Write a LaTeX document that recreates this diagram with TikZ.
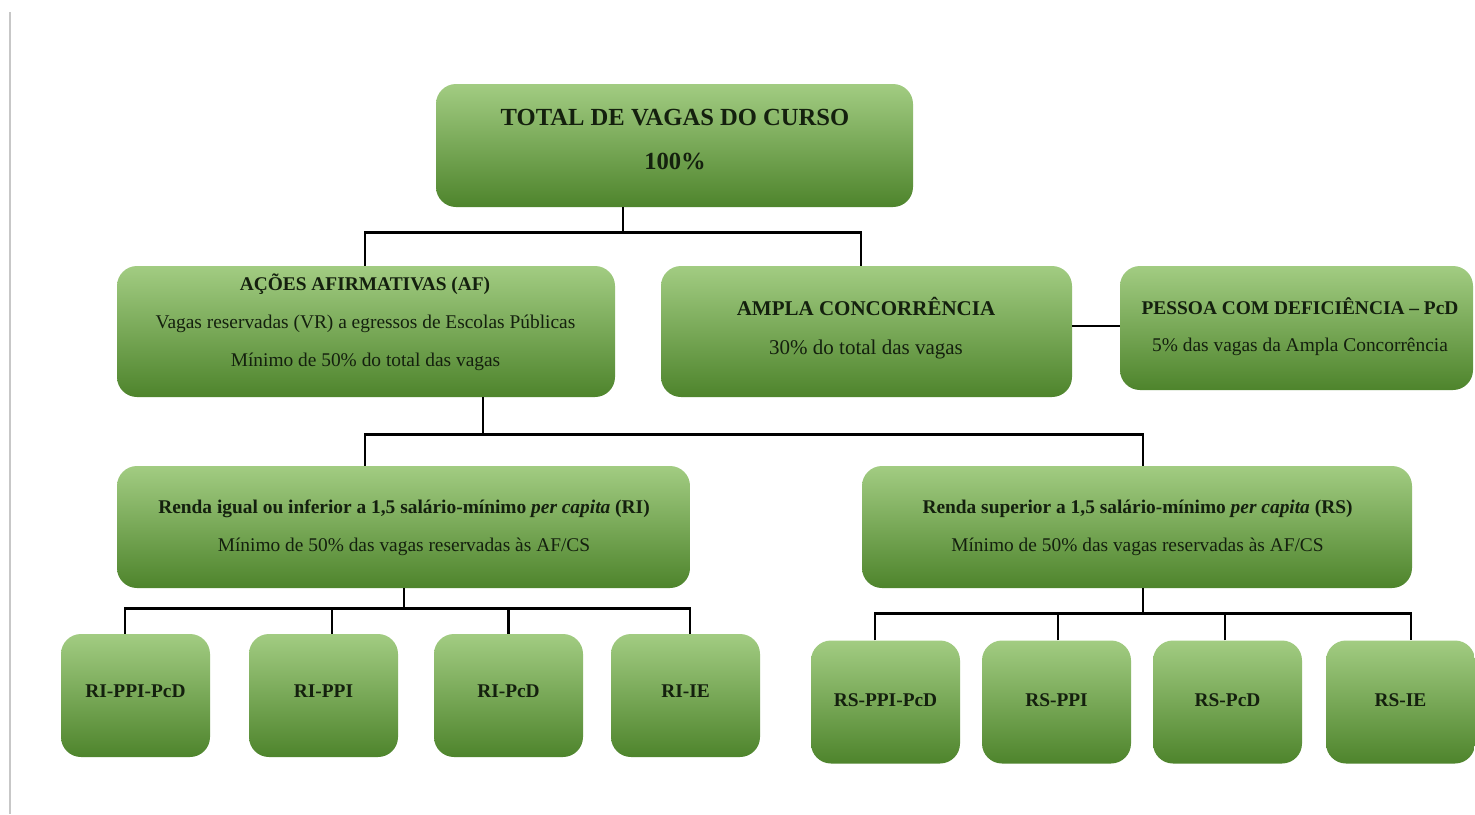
\documentclass[tikz,border=0pt]{standalone}
\usepackage{fontspec}
\setmainfont{Liberation Serif}
\definecolor{gtop}{RGB}{162,204,130}
\definecolor{gmid}{RGB}{120,176,74}
\definecolor{gbot}{RGB}{78,132,44}
\definecolor{txt}{RGB}{20,32,14}
\tikzset{
  box/.style={rectangle, rounded corners=20pt, top color=gtop, middle color=gmid, bottom color=gbot, draw=none, inner sep=0pt},
  conn/.style={draw=black, line width=2.7pt},
  tb/.style={anchor=base, text=txt, inner sep=0pt, font=\fontsize{19.4}{23}\selectfont\bfseries},
  tr/.style={anchor=base, text=txt, inner sep=0pt, font=\fontsize{19.4}{23}\selectfont},
  tbig/.style={anchor=base, text=txt, inner sep=0pt, font=\fontsize{24.6}{29}\selectfont\bfseries},
  tbac/.style={anchor=base, text=txt, inner sep=0pt, font=\fontsize{21}{25}\selectfont\bfseries},
  trac/.style={anchor=base, text=txt, inner sep=0pt, font=\fontsize{21}{25}\selectfont},
}
\begin{document}
\begin{tikzpicture}[x=1pt,y=-1pt]
\useasboundingbox (0,0) rectangle (1475,814);
\fill[white] (0,0) rectangle (1475,814);
\draw[black!22, line width=1.5pt] (10,12) -- (10,814);

% boxes
\node[box, minimum width=477pt, minimum height=123pt] (top) at (674.5,145.5) {};
\node[box, minimum width=498pt, minimum height=131pt] (af) at (366,331.5) {};
\node[box, minimum width=411pt, minimum height=131pt] (ac) at (866.5,331.5) {};
\node[box, minimum width=353pt, minimum height=124pt] (pcd) at (1296.5,328) {};
\node[box, minimum width=573pt, minimum height=122pt] (ri) at (403.5,527) {};
\node[box, minimum width=550pt, minimum height=122pt] (rs) at (1137,527) {};
\node[box, minimum width=149pt, minimum height=123pt] (c1) at (135.5,695.5) {};
\node[box, minimum width=149pt, minimum height=123pt] (c2) at (323.5,695.5) {};
\node[box, minimum width=149pt, minimum height=123pt] (c3) at (508.5,695.5) {};
\node[box, minimum width=149pt, minimum height=123pt] (c4) at (685.5,695.5) {};
\node[box, minimum width=149pt, minimum height=123pt] (d1) at (885.5,702) {};
\node[box, minimum width=149pt, minimum height=123pt] (d2) at (1056.5,702) {};
\node[box, minimum width=149pt, minimum height=123pt] (d3) at (1227.5,702) {};
\node[box, minimum width=149pt, minimum height=123pt] (d4) at (1400.5,702) {};

% texts
\node[tbig] (top1) at (675,125) {TOTAL DE VAGAS DO CURSO};
\node[tbig] (top2) at (675,169) {100\%};
\node[tb] (af1) at (365,290) {AÇÕES AFIRMATIVAS (AF)};
\node[tr] (af2) at (365.5,328) {Vagas reservadas (VR) a egressos de Escolas Públicas};
\node[tr] (af3) at (365.5,366) {Mínimo de 50\% do total das vagas};
\node[tbac] (ac1) at (866,315) {AMPLA CONCORRÊNCIA};
\node[trac] (ac2) at (866,354) {30\% do total das vagas};
\node[tb] (pcd1) at (1300,314) {PESSOA COM DEFICIÊNCIA – PcD};
\node[tr] (pcd2) at (1300,351) {5\% das vagas da Ampla Concorrência};
\node[tb] (ri1) at (404,513) {Renda igual ou inferior a 1,5 salário-mínimo \textit{per capita} (RI)};
\node[tr] (ri2) at (404,551) {Mínimo de 50\% das vagas reservadas às AF/CS};
\node[tb] (rs1) at (1137.5,513) {Renda superior a 1,5 salário-mínimo \textit{per capita} (RS)};
\node[tr] (rs2) at (1137.5,551) {Mínimo de 50\% das vagas reservadas às AF/CS};
\node[tb] (c1t) at (135.5,697) {RI-PPI-PcD};
\node[tb] (c2t) at (323.5,697) {RI-PPI};
\node[tb] (c3t) at (508.5,697) {RI-PcD};
\node[tb] (c4t) at (685.5,697) {RI-IE};
\node[tb] (d1t) at (885.5,706) {RS-PPI-PcD};
\node[tb] (d2t) at (1056.5,706) {RS-PPI};
\node[tb] (d3t) at (1227.5,706) {RS-PcD};
\node[tb] (d4t) at (1400.5,706) {RS-IE};

% connectors
\draw[conn] ([xshift=-51.5pt]top.south) -- ++(0,25) coordinate (j1);
\draw[conn] ([xshift=-1pt]af.north) |- (j1) -| ([xshift=-5.5pt]ac.north);
\draw[conn] ([yshift=5.5pt]ac.east) -- ([yshift=5.5pt]ac.east -| pcd.west);
\draw[conn] ([xshift=117pt]af.south) -- ++(0,37) coordinate (j2);
\draw[conn] ([xshift=-38.5pt]ri.north) |- (j2) -| ([xshift=6pt]rs.north);
\draw[conn] ([xshift=0.5pt]ri.south) -- ++(0,20) coordinate (j3);
\draw[conn] ([xshift=-10.5pt]c1.north) |- (j3) -| ([xshift=4.5pt]c4.north);
\draw[conn] ([xshift=8.5pt]c2.north) -- ([xshift=8.5pt]c2.north |- j3);
\draw[conn] (c3.north) -- (c3.north |- j3);
\draw[conn] ([xshift=6pt]rs.south) -- ++(0,25) coordinate (j4);
\draw[conn] ([xshift=-10.5pt]d1.north) |- (j4) -| ([xshift=10.5pt]d4.north);
\draw[conn] ([xshift=1.5pt]d2.north) -- ([xshift=1.5pt]d2.north |- j4);
\draw[conn] ([xshift=-2.5pt]d3.north) -- ([xshift=-2.5pt]d3.north |- j4);
\end{tikzpicture}
\end{document}
